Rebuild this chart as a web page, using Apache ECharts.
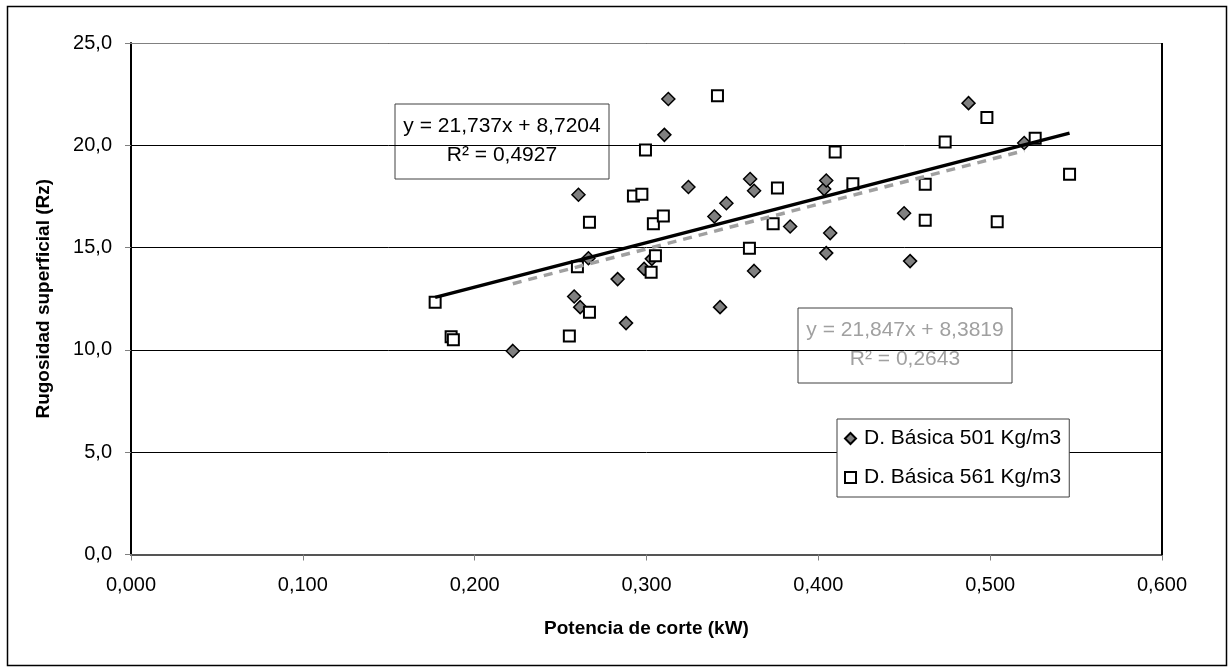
<!DOCTYPE html>
<html>
<head>
<meta charset="utf-8">
<title>Rugosidad superficial vs potencia de corte</title>
<script src="https://cdn.jsdelivr.net/npm/echarts@6/dist/echarts.min.js"></script>
<style>
  html, body { margin: 0; padding: 0; background: #ffffff; }
  #chart { width: 1230px; height: 670px; }
</style>
</head>
<body>
<div id="chart"></div>
<script>
// Serie D. Básica 501 Kg/m3: [potencia (kW), rugosidad (Rz)]
const serie501 = [
  [0.2222, 9.95], [0.2579, 12.61], [0.2604, 17.58], [0.2614, 12.09],
  [0.2662, 14.48], [0.2832, 13.46], [0.2881, 11.31], [0.2986, 13.96],
  [0.3031, 14.45], [0.3104, 20.51], [0.3127, 22.26], [0.3244, 17.96],
  [0.3395, 16.52], [0.3428, 12.09], [0.3465, 17.17], [0.3603, 18.35],
  [0.3626, 17.78], [0.3626, 13.86], [0.3836, 16.03], [0.4034, 17.86],
  [0.4046, 18.28], [0.4046, 14.73], [0.4069, 15.71], [0.4499, 16.68],
  [0.4534, 14.34], [0.4874, 22.06], [0.5198, 20.11]
];

// Serie D. Básica 561 Kg/m3
const serie561 = [
  [0.1770, 12.33], [0.1863, 10.64], [0.1876, 10.49], [0.2551, 10.68],
  [0.2598, 14.07], [0.2668, 16.24], [0.2668, 11.84], [0.2924, 17.52],
  [0.2973, 17.61], [0.2994, 19.77], [0.3027, 13.80], [0.3040, 16.16],
  [0.3052, 14.60], [0.3098, 16.54], [0.3413, 22.42], [0.3599, 14.97],
  [0.3737, 16.16], [0.3762, 17.91], [0.4098, 19.67], [0.4201, 18.12],
  [0.4622, 18.10], [0.4622, 16.34], [0.4738, 20.16], [0.4981, 21.36],
  [0.5041, 16.26], [0.5262, 20.35], [0.5462, 18.59]
];

// Líneas de tendencia lineal: [pendiente, ordenada]
const tendencia501 = [21.847, 8.3819];
const tendencia561 = [21.737, 8.7204];

const nombres = ['D. Básica 501 Kg/m3', 'D. Básica 561 Kg/m3'];
const ecuacion501 = ['y = 21,847x + 8,3819', 'R² = 0,2643'];
const ecuacion561 = ['y = 21,737x + 8,7204', 'R² = 0,4927'];

const etiquetasX = ['0,000', '0,100', '0,200', '0,300', '0,400', '0,500', '0,600'];
const etiquetasY = ['0,0', '5,0', '10,0', '15,0', '20,0', '25,0'];

const FONT = '"Liberation Sans", Arial, sans-serif';

// Recta de tendencia sobre el rango x de la serie
function recta(datos, coef) {
  const xs = datos.map(d => d[0]);
  const x0 = Math.min.apply(null, xs), x1 = Math.max.apply(null, xs);
  return [[x0, coef[0] * x0 + coef[1]], [x1, coef[0] * x1 + coef[1]]];
}

const chart = echarts.init(document.getElementById('chart'), null, { renderer: 'canvas' });

// Cuadro con la ecuación de una tendencia
function cuadro(x, y, w, h, lineas, color) {
  return {
    type: 'group', x: x, y: y, z: 100,
    children: [
      { type: 'rect', shape: { x: 0, y: 0, width: w, height: h },
        style: { fill: '#ffffff', stroke: '#404040', lineWidth: 1 } },
      { type: 'text', x: w / 2, y: h / 2 - 15,
        style: { text: lineas[0], fill: color, font: '21px ' + FONT, align: 'center', verticalAlign: 'middle' } },
      { type: 'text', x: w / 2, y: h / 2 + 14,
        style: { text: lineas[1], fill: color, font: '21px ' + FONT, align: 'center', verticalAlign: 'middle' } }
    ]
  };
}

chart.setOption({
  animation: false,
  backgroundColor: '#ffffff',
  grid: { left: 131, right: 68, top: 43, bottom: 115.5, show: false },
  xAxis: {
    type: 'value', min: 0, max: 0.6, interval: 0.1,
    name: 'Potencia de corte (kW)', nameLocation: 'middle', nameGap: 65,
    nameTextStyle: { fontFamily: FONT, fontSize: 19, fontWeight: 'bold', color: '#000' },
    axisLine: { show: true, onZero: false, lineStyle: { color: '#555555', width: 2 } },
    axisTick: { show: true, length: 6, inside: false, lineStyle: { color: '#808080', width: 1 } },
    axisLabel: {
      margin: 21, fontFamily: FONT, fontSize: 20, color: '#000',
      formatter: v => etiquetasX[Math.round(v / 0.1)]
    },
    splitLine: { show: false }
  },
  yAxis: {
    type: 'value', min: 0, max: 25, interval: 5,
    name: 'Rugosidad superficial (Rz)', nameLocation: 'middle', nameGap: 78, nameRotate: 90,
    nameTextStyle: { fontFamily: FONT, fontSize: 19, fontWeight: 'bold', color: '#000' },
    axisLine: { show: true, onZero: false, lineStyle: { color: '#000000', width: 2 } },
    axisTick: { show: true, length: 6, lineStyle: { color: '#808080', width: 1 } },
    axisLabel: {
      margin: 19, fontFamily: FONT, fontSize: 20, color: '#000',
      formatter: v => etiquetasY[Math.round(v / 5)]
    },
    splitLine: { show: true, lineStyle: { color: '#000000', width: 1 } }
  },
  legend: {
    orient: 'vertical', left: 837, top: 419,
    data: nombres,
    backgroundColor: '#ffffff', borderColor: '#404040', borderWidth: 1, borderRadius: 0,
    padding: [9, 8, 9, 7], itemGap: 18, itemWidth: 11, itemHeight: 11,
    textStyle: { fontFamily: FONT, fontSize: 21, color: '#000', padding: [0, 0, 0, 3] },
    z: 100
  },
  series: [
    {
      name: nombres[0], type: 'scatter', data: serie501,
      symbol: 'diamond', symbolSize: 13,
      itemStyle: { color: '#808080', borderColor: '#000000', borderWidth: 1.5, opacity: 1 },
      z: 3
    },
    {
      name: nombres[1], type: 'scatter', data: serie561,
      symbol: 'rect', symbolSize: 11,
      itemStyle: { color: '#ffffff', borderColor: '#000000', borderWidth: 2, opacity: 1 },
      z: 3
    },
    {
      name: 'Lineal (501)', type: 'line', data: recta(serie501, tendencia501),
      symbol: 'none', silent: true,
      lineStyle: { color: '#a0a0a0', width: 3.5, type: [9, 7] },
      z: 5
    },
    {
      name: 'Lineal (561)', type: 'line', data: recta(serie561, tendencia561),
      symbol: 'none', silent: true,
      lineStyle: { color: '#000000', width: 3.5 },
      z: 6
    }
  ],
  graphic: [
    // borde superior y derecho del área de trazado
    { type: 'line', z: 50, shape: { x1: 131, y1: 43.5, x2: 1162, y2: 43.5 },
      style: { stroke: '#808080', lineWidth: 1 } },
    { type: 'line', z: 50, shape: { x1: 1162, y1: 43, x2: 1162, y2: 555 },
      style: { stroke: '#000000', lineWidth: 2 } },
    cuadro(395, 104, 214, 75, ecuacion561, '#000000'),
    cuadro(798, 308, 214, 75, ecuacion501, '#a0a0a0'),
    // marco exterior
    { type: 'rect', z: 50, shape: { x: 7.5, y: 6.5, width: 1219, height: 659 },
      style: { fill: 'none', stroke: '#000000', lineWidth: 1.5 } }
  ]
});
</script>
</body>
</html>
